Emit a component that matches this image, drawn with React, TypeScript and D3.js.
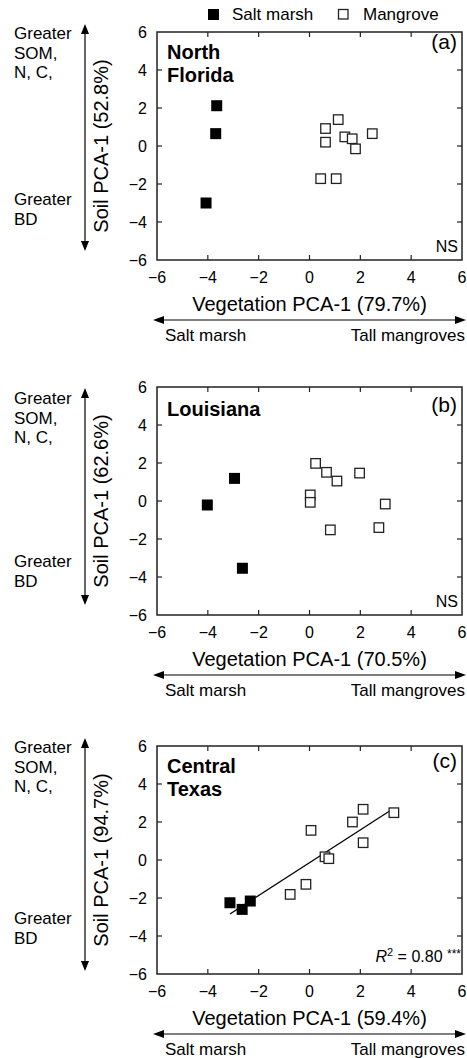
import React from 'react';
import * as d3 from 'd3';

// values
const panelIds = ['(a)', '(b)', '(c)'];
const siteLines = [['North', 'Florida'], ['Louisiana'], ['Central', 'Texas']];
const vegPct = ['79.7%', '70.5%', '59.4%'];
const soilPct = ['52.8%', '62.6%', '94.7%'];
const stats = ['NS', 'NS', 'R2'];

const marshX = [
  [-3.65, -3.69, -4.07],
  [-4.02, -2.95, -2.64],
  [-3.13, -2.65, -2.33],
];
const marshY = [
  [2.12, 0.65, -3.0],
  [-0.21, 1.19, -3.54],
  [-2.25, -2.6, -2.16],
];
const mangroveX = [
  [0.63, 0.63, 1.13, 1.39, 1.68, 1.81, 2.47, 0.44, 1.05],
  [0.24, 0.67, 1.08, 1.97, 0.03, 0.03, 0.82, 2.73, 2.98],
  [-0.76, -0.14, 0.06, 0.61, 0.76, 1.69, 2.11, 2.11, 3.32],
];
const mangroveY = [
  [0.92, 0.2, 1.39, 0.48, 0.38, -0.15, 0.65, -1.72, -1.72],
  [1.98, 1.51, 1.05, 1.47, 0.32, -0.07, -1.52, -1.4, -0.16],
  [-1.81, -1.28, 1.56, 0.17, 0.07, 2.0, 2.67, 0.91, 2.49],
];
const axisTicks = [-6, -4, -2, 0, 2, 4, 6];

const FONT = '"Liberation Sans", Arial, Helvetica, sans-serif';
const left = 157;
const right = 462;
const tops = [32, 387, 746];
const plotH = 228;
const vArrow = [[-8, -9], [1, -10], [-8, -3]];
const upperGreater = [7, 17, 7];
const lowerGreater = [173, 180, 178];
const siteBase = [27, 29, 27];
const idBase = [17, 25, 22];

const x = d3.scaleLinear().domain([-6, 6]).range([left, right]);
const fmt = d3.format('');

function fit(xs: number[], ys: number[]) {
  const mx = d3.mean(xs)!;
  const my = d3.mean(ys)!;
  const sxy = d3.sum(xs, (v, i) => (v - mx) * (ys[i] - my));
  const sxx = d3.sum(xs, (v) => (v - mx) ** 2);
  const b = sxy / sxx;
  return { a: my - b * mx, b };
}

const Panel: React.FC<{ i: number }> = ({ i }) => {
  const top = tops[i];
  const bottom = top + plotH;
  const y = d3.scaleLinear().domain([-6, 6]).range([bottom, top]);
  const mid = (top + bottom) / 2;
  const allX = [...marshX[i], ...mangroveX[i]];
  const allY = [...marshY[i], ...mangroveY[i]];
  const line = d3.line<number>().x((v) => x(v));
  let reg: string | null = null;
  if (stats[i] === 'R2') {
    const { a, b } = fit(allX, allY);
    const ext = d3.extent(allX) as [number, number];
    reg = line.y((v) => y(a + b * v))(ext);
  }
  const sq = 11;
  const osq = 9.5;
  return (
    <g>
      {/* left side annotation */}
      <line x1={85} x2={85} y1={top + vArrow[i][0] + 8} y2={bottom + vArrow[i][1] - 8} stroke="#000" strokeWidth={1.2} />
      <path d={`M85,${top + vArrow[i][0]} l-4,10 h8 z`} fill="#000" />
      <path d={`M85,${bottom + vArrow[i][1]} l-4,-10 h8 z`} fill="#000" />
      <text x={14} y={top + upperGreater[i]} fontSize={17}>
        <tspan x={14}>Greater</tspan>
        <tspan x={14} dy={19.5}>SOM,</tspan>
        <tspan x={14} dy={19.5}>N, C,</tspan>
      </text>
      <text x={14} y={top + lowerGreater[i]} fontSize={17}>
        <tspan x={14}>Greater</tspan>
        <tspan x={14} dy={19.5}>BD</tspan>
      </text>
      <text transform={`translate(108,${mid}) rotate(-90)`} textAnchor="middle" fontSize={20}>
        Soil PCA-1 ({soilPct[i]})
      </text>

      {/* frame and ticks */}
      <rect x={left} y={top} width={right - left} height={plotH} fill="none" stroke="#222" strokeWidth={1.5} />
      {axisTicks.slice(1, -1).map((t) => (
        <g key={t} stroke="#222" strokeWidth={1.2}>
          <line x1={x(t)} x2={x(t)} y1={bottom} y2={bottom - 5} />
          <line x1={x(t)} x2={x(t)} y1={top} y2={top + 5} />
          <line x1={left} x2={left + 5} y1={y(t)} y2={y(t)} />
          <line x1={right} x2={right - 5} y1={y(t)} y2={y(t)} />
        </g>
      ))}
      {axisTicks.map((t) => (
        <text key={'xt' + t} x={x(t)} y={bottom + 23} textAnchor="middle" fontSize={16}>
          {fmt(t)}
        </text>
      ))}
      {axisTicks.map((t) => (
        <text key={'yt' + t} x={left - 10} y={y(t)} dy="0.36em" textAnchor="end" fontSize={16}>
          {fmt(t)}
        </text>
      ))}

      {/* x title and gradient arrow */}
      <text x={(left + right) / 2} y={bottom + 51} textAnchor="middle" fontSize={20}>
        Vegetation PCA-1 ({vegPct[i]})
      </text>
      <line x1={160} x2={458} y1={bottom + 60} y2={bottom + 60} stroke="#000" strokeWidth={1.2} />
      <path d={`M153,${bottom + 60} l11,-4 v8 z`} fill="#000" />
      <path d={`M466,${bottom + 60} l-11,-4 v8 z`} fill="#000" />
      <text x={165} y={bottom + 81} fontSize={17}>Salt marsh</text>
      <text x={465} y={bottom + 81} textAnchor="end" fontSize={17}>Tall mangroves</text>

      {/* labels inside plot */}
      <text x={167} y={top + siteBase[i]} fontSize={20} fontWeight="bold">
        {siteLines[i].map((s, k) => (
          <tspan key={s} x={167} dy={k === 0 ? 0 : 23}>{s}</tspan>
        ))}
      </text>
      <text x={457} y={top + idBase[i]} textAnchor="end" fontSize={21}>{panelIds[i]}</text>
      {stats[i] === 'NS' ? (
        <text x={458} y={bottom - 8} textAnchor="end" fontSize={16}>NS</text>
      ) : (
        <text x={461} y={bottom - 12} textAnchor="end" fontSize={16}>
          <tspan fontStyle="italic">R</tspan>
          <tspan dy={-6} fontSize={11}>2</tspan>
          <tspan dy={6}> = 0.80 </tspan>
          <tspan dy={-4} fontSize={12}>***</tspan>
        </text>
      )}

      {/* data */}
      {reg && <path d={reg} fill="none" stroke="#000" strokeWidth={1.3} />}
      {mangroveX[i].map((v, k) => (
        <rect key={'m' + k} x={x(v) - osq / 2} y={y(mangroveY[i][k]) - osq / 2} width={osq} height={osq}
          fill="#fff" stroke="#222" strokeWidth={1.3} />
      ))}
      {marshX[i].map((v, k) => (
        <rect key={'s' + k} x={x(v) - sq / 2} y={y(marshY[i][k]) - sq / 2} width={sq} height={sq} fill="#000" />
      ))}
    </g>
  );
};

export default function App() {
  return (
    <svg width={467} height={1058} style={{ position: 'absolute', left: 0, top: 0, background: '#fff' }}
      fontFamily={FONT} fill="#000">
      <rect x={208} y={9} width={11} height={11} fill="#000" />
      <text x={232} y={20} fontSize={17}>Salt marsh</text>
      <rect x={338.5} y={9.5} width={9.5} height={9.5} fill="#fff" stroke="#222" strokeWidth={1.3} />
      <text x={363} y={20} fontSize={17}>Mangrove</text>
      {panelIds.map((_, i) => (
        <Panel key={i} i={i} />
      ))}
    </svg>
  );
}
